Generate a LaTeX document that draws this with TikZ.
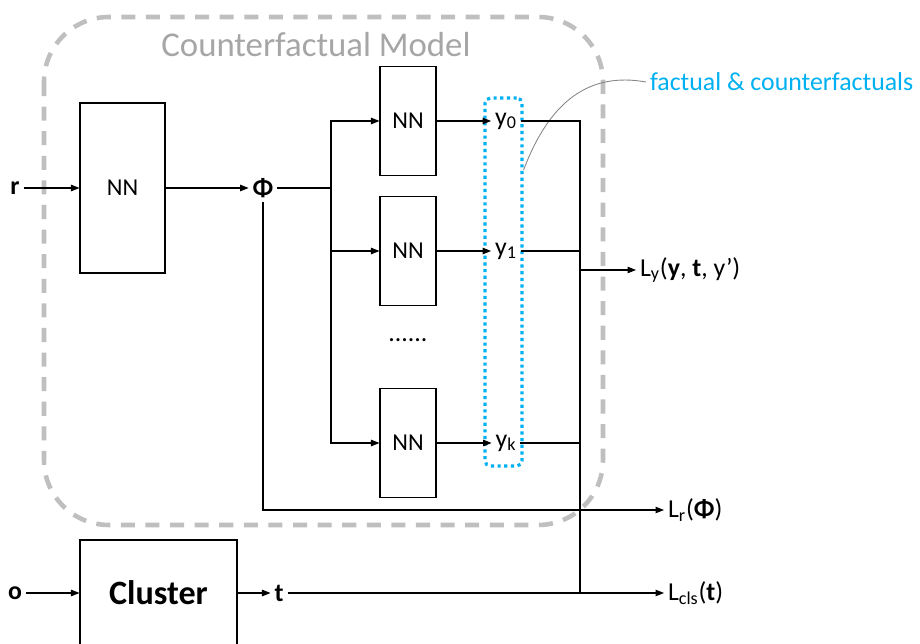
\documentclass[tikz,border=0pt]{standalone}
\usepackage{fontspec}
\setmainfont{Carlito}
\usepackage{tikz}
\usetikzlibrary{arrows.meta}
\definecolor{cfGray}{HTML}{BFBFBF}
\definecolor{cfText}{HTML}{A6A6A6}
\definecolor{cfBlue}{HTML}{00B0F0}

\begin{document}
\begin{tikzpicture}[
    x=0.02cm, y=-0.02cm,
    >={Triangle[length=1.7mm,width=1.3mm]},
    every path/.style={line width=0.6pt},
    nn/.style={draw, rectangle, inner sep=0pt, font=\fontsize{13.8pt}{16pt}\selectfont},
    lbl/.style={inner sep=2pt, font=\fontsize{14.7pt}{17pt}\selectfont},
    wire/.style={->}
  ]
  \useasboundingbox (0,0) rectangle (920,644);

  % counterfactual model frame
  \draw[cfGray, line width=2.6pt, dash pattern=on 8pt off 6pt, rounded corners=1.3cm]
    (44,17) rectangle (603,525);
  \node[font=\fontsize{19.8pt}{23pt}\selectfont, text=cfText] (title) at (316,45) {Counterfactual Model};

  % representation part
  \node[lbl] (r) at (15,188) {\textbf{r}};
  \node[nn, minimum width=1.7cm, minimum height=3.4cm] (enc) at (122.5,188) {NN};
  \node[lbl] (phi) at (263,188) {\textbf{Φ}};
  \coordinate (split) at (331,188);

  \draw[->] (r) -- (enc);
  \draw[->] (enc) -- (phi);
  \draw (phi) -- (split);

  % outcome heads
  \node[nn, minimum width=1.12cm, minimum height=2.18cm] (h0) at (408,121) {NN};
  \node[nn, minimum width=1.12cm, minimum height=2.18cm] (h1) at (408,251) {NN};
  \node[nn, minimum width=1.12cm, minimum height=2.18cm] (hk) at (408,443) {NN};
  \node[lbl] (dots) at (408,340) {......};

  \draw[->] (split) |- (h0);
  \draw[->] (split) |- (hk);
  \draw[->] (split |- h1) -- (h1);

  \node[lbl] (y0) at (506,121) {y\textsubscript{0}};
  \node[lbl] (y1) at (506,251) {y\textsubscript{1}};
  \node[lbl] (yk) at (506,443) {y\textsubscript{k}};
  \node[draw=cfBlue, line width=1.8pt, dotted, rounded corners=3pt,
        minimum width=0.74cm, minimum height=7.36cm] (ybox) at (503.5,282) {};

  \draw[->] (h0) -- (y0);
  \draw[->] (h1) -- (y1);
  \draw[->] (hk) -- (yk);

  \node[lbl, anchor=west, text=cfBlue] (fact) at (646,82) {factual \& counterfactuals};
  \coordinate (callout) at ([yshift=2.24cm]ybox.east);
  \draw[cfGray!70!black, line width=0.5pt] (callout) .. controls (550,100) and (590,72) .. (fact.west);

  % cluster part
  \node[lbl] (o) at (15,593) {\textbf{o}};
  \node[nn, minimum width=3.14cm, minimum height=2.12cm,
        font=\fontsize{19.4pt}{22pt}\selectfont\bfseries] (clu) at (158.5,593) {Cluster};
  \node[lbl] (t) at (279,593) {\textbf{t}};
  \draw[->] (o) -- (clu);
  \draw[->] (clu) -- (t);

  % losses
  \node[lbl, anchor=west] (ly) at (636,270) {L\textsubscript{y}(\textbf{y}, \textbf{t}, y’)};
  \node[lbl, anchor=west] (lr) at (664,510) {L\textsubscript{r}(\textbf{Φ})};
  \node[lbl, anchor=west] (lc) at (664,593) {L\textsubscript{cls}(\textbf{t})};
  \coordinate (join) at (580,593);

  \draw (y0) -| (join);
  \draw (y1) -- (y1 -| join);
  \draw (yk) -- (yk -| join);
  \draw[->] (join |- ly) -- (ly);
  \draw[->] (phi) |- (lr);
  \draw[->] (t) -- (lc);
\end{tikzpicture}
\end{document}
